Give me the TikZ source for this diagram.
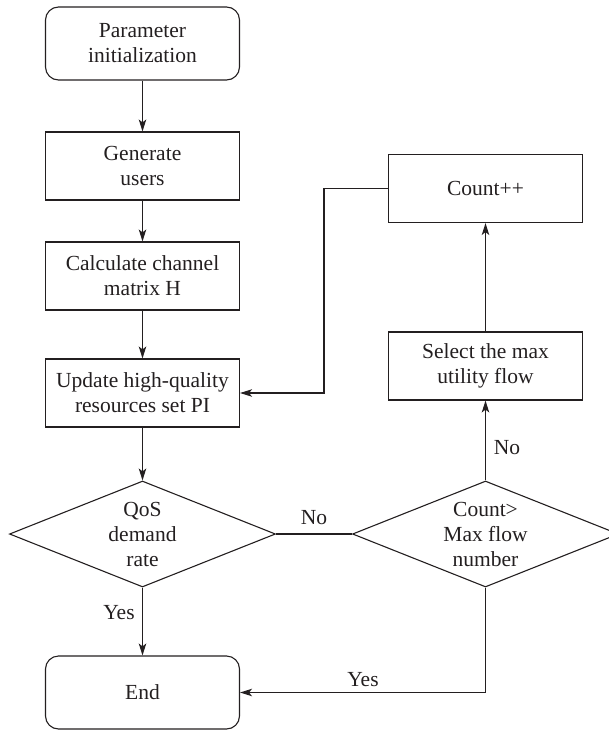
\documentclass[tikz,border=0pt]{standalone}
\usepackage{fontspec}
\setmainfont{Liberation Serif}
\usetikzlibrary{shapes.geometric,arrows.meta}
\definecolor{ink}{HTML}{231F20}
\begin{document}
\begin{tikzpicture}[x=1pt,y=-1pt,
  every node/.style={font=\fontsize{21.5}{25}\selectfont, text=ink},
  process/.style={draw=ink, line width=1.1pt, minimum width=194pt, minimum height=68pt, inner sep=0pt, align=center},
  terminal/.style={process, rounded corners=13pt, minimum height=73pt},
  decision/.style={draw=ink, line width=1.1pt, diamond, inner sep=0pt, minimum width=266pt, minimum height=106pt},
  flow/.style={draw=ink, line width=1.1pt, -{Stealth[length=12pt,width=7.5pt,inset=3pt]}},
  link/.style={draw=ink, line width=1.1pt},
  tag/.style={inner sep=0pt, align=center}
]
\useasboundingbox (0,0) rectangle (609,731);

% main column
\node[terminal] (param) at (142.5,43.5)  {Parameter\\initialization};
\node[process]  (gen)   at (142.5,166)   {Generate\\users};
\node[process]  (calc)  at (142.5,276)   {Calculate channel\\matrix H};
\node[process]  (upd)   at (142.5,393)   {Update high-quality\\resources set PI};
\node[decision] (qos)   at (142.5,534)   {};
\node[tag]      (qost)  at (qos.center)  {QoS\\demand\\rate};
\node[terminal] (endn)  at (142.5,692.5) {End};

% loop column
\node[decision] (cnt)   at (485.5,534)   {};
\node[tag]      (cntt)  at (cnt.center)  {Count>\\Max flow\\number};
\node[process]  (sel)   at (485.5,366)   {Select the max\\utility flow};
\node[process]  (cpp)   at (485.5,188.5) {Count++};

% connectors
\draw[flow] (param) -- (gen);
\draw[flow] (gen) -- (calc);
\draw[flow] (calc) -- (upd);
\draw[flow] (upd) -- (qos.north);
\draw[flow] (qos.south) -- (endn);
\draw[link] (qos.east) -- (cnt.west);
\draw[flow] (cnt.north) -- (sel);
\draw[flow] (sel) -- (cpp);
\draw[flow] (cpp.west) -- ++(-64,0) |- (upd.east);
\draw[flow] (cnt.south) |- (endn.east);

% branch labels
\node[tag] (yes1) at (119,613) {Yes};
\node[tag] (no1)  at (314,518) {No};
\node[tag] (no2)  at (507,448) {No};
\node[tag] (yes2) at (363,680) {Yes};
\end{tikzpicture}
\end{document}
